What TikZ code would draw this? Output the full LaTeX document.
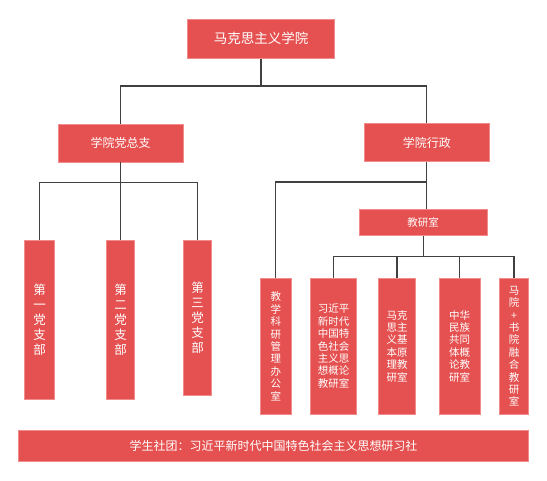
\documentclass[tikz,border=0pt]{standalone}
\usepackage{fontspec}
\newfontfamily\cjk{Noto Sans CJK SC}
\definecolor{boxred}{RGB}{229,80,80}
\definecolor{boxedge}{RGB}{242,140,140}
\definecolor{wiregray}{RGB}{64,64,64}
\begin{document}
\begin{tikzpicture}[x=1pt,y=-1pt,
    box/.style={fill=boxred,draw=boxedge,line width=0.6pt,text=white,
      inner sep=0pt,align=center,font=\cjk\fontsize{10.5}{12.4}\selectfont},
    tall/.style={box,font=\cjk\fontsize{12.5}{15}\selectfont}]
  \useasboundingbox (0,0) rectangle (547,480);
  % top levels
  \node[box,minimum width=147pt,minimum height=39pt,font=\cjk\fontsize{13.5}{16}\selectfont]
    (root) at (261,38.8) {马克思主义学院};
  \node[box,minimum width=125pt,minimum height=38pt,font=\cjk\fontsize{12}{14}\selectfont]
    (party) at (120.7,142.8) {学院党总支};
  \node[box,minimum width=125pt,minimum height=38pt,font=\cjk\fontsize{12}{14}\selectfont]
    (admin) at (426.8,142.5) {学院行政};
  % party branches
  \node[tall,minimum width=30pt,minimum height=159pt] (b1) at (39.7,319.8) {第\\一\\党\\支\\部};
  \node[tall,minimum width=28pt,minimum height=159pt] (b2) at (120.7,319.7) {第\\二\\党\\支\\部};
  \node[tall,minimum width=27.6pt,minimum height=155.7pt] (b3) at (197.5,317.8) {第\\三\\党\\支\\部};
  % admin branches
  \node[box,minimum width=127.7pt,minimum height=26.7pt] (jys) at (423.2,222.3) {教研室};
  \node[box,minimum width=31pt,minimum height=136pt] (office) at (275.8,346.3)
    {教\\学\\科\\研\\管\\理\\办\\公\\室};
  \node[box,minimum width=46.4pt,minimum height=135.7pt] (r1) at (333.5,346.2)
    {习近平\\新时代\\中国特\\色社会\\主义思\\想概论\\教研室};
  \node[box,minimum width=37.2pt,minimum height=135.7pt] (r2) at (397.1,346.2)
    {马克\\思主\\义基\\本原\\理教\\研室};
  \node[box,minimum width=41pt,minimum height=135.7pt] (r3) at (459.5,346.2)
    {中华\\民族\\共同\\体概\\论教\\研室};
  \node[box,minimum width=29.5pt,minimum height=135.7pt] (r4) at (514,346.2)
    {马\\院\\+\\书\\院\\融\\合\\教\\研\\室};
  % student club
  \node[box,minimum width=510.4pt,minimum height=31pt,font=\cjk\fontsize{12}{14}\selectfont]
    (club) at (273.5,445.5) {学生社团：习近平新时代中国特色社会主义思想研习社};
  % junctions
  \coordinate (j0) at (261,86);
  \coordinate (j1) at (120.7,182.5);
  \coordinate (j2) at (426.8,182);
  \coordinate (j3) at (423.2,256.7);
  \begin{scope}[draw=wiregray,line width=1.3pt]
    \draw (root) -- (j0);
    \draw (j0) -| (party);
    \draw (j0) -| (admin);
    \draw (party) -- (j1);
    \draw (j1) -| (b1);
    \draw (j1) -- (b2);
    \draw (j1) -| (b3);
    \draw (admin) -- (admin |- jys.north);
    \draw (j2) -| (office);
    \draw (jys) -- (j3);
    \draw (j3) -| (r1);
    \draw (j3) -| (r2);
    \draw (j3) -| (r3);
    \draw (j3) -| (r4);
  \end{scope}
\end{tikzpicture}
\end{document}
